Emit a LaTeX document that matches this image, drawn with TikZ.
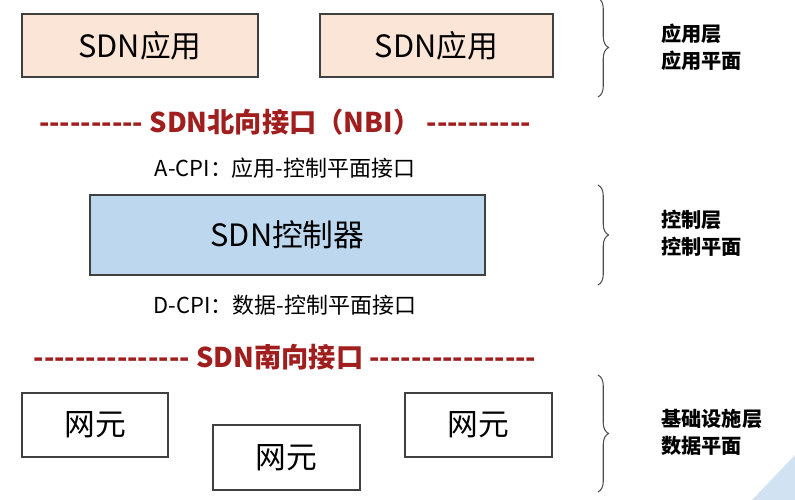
\documentclass[tikz,border=0pt]{standalone}
\usepackage{fontspec}
\setmainfont{Noto Sans CJK SC}
\usetikzlibrary{decorations.pathreplacing}
\definecolor{appfill}{HTML}{FBE5D6}
\definecolor{ctrlfill}{HTML}{BDD7EE}
\definecolor{ifred}{HTML}{A01E1E}
\newcommand{\dashrun}[1]{\foreach \i in {1,...,#1}{-{}}}
\tikzset{
  layerbox/.style={draw=black!75, line width=0.8pt, minimum width=#1, inner sep=0pt},
  boxtext/.style={font=\fontsize{17.5}{20}\selectfont},
  iftext/.style={text=ifred, font=\bfseries\fontsize{15.5}{18}\selectfont},
  cpitext/.style={font=\fontsize{12.5}{15}\selectfont},
  layertext/.style={font=\bfseries\fontsize{11.5}{15.5}\selectfont, align=left, anchor=west},
  bracket/.style={decorate, decoration={brace, amplitude=6pt}, black!70, line width=0.6pt}
}
\begin{document}
\begin{tikzpicture}[x=0.02cm, y=-0.02cm]
   \useasboundingbox (0,0) rectangle (795,500);
   \fill[ctrlfill!70] (795,455) -- (795,500) -- (752,500) -- cycle;

   % application layer
   \node[layerbox=4.72cm, minimum height=1.26cm, fill=appfill, boxtext] (app1) at (140,45.5) {SDN应用};
   \node[layerbox=4.66cm, minimum height=1.26cm, fill=appfill, boxtext] (app2) at (436.5,45.5) {SDN应用};

   \node[iftext] (nbi) at (285,122) {\dashrun{10} SDN北向接口（NBI） \dashrun{10}};
   \node[cpitext] (acpi) at (285,168) {A-CPI：应用-控制平面接口};

   % control layer
   \node[layerbox=7.9cm, minimum height=1.6cm, fill=ctrlfill, boxtext] (ctrl) at (287.5,235) {SDN控制器};

   \node[cpitext] (dcpi) at (285,305) {D-CPI：数据-控制平面接口};
   \node[iftext] (sbi) at (285,357) {\dashrun{15} SDN南向接口 \dashrun{16}};

   % data layer
   \node[layerbox=2.92cm, minimum height=1.28cm, fill=white, boxtext] (ne1) at (95,425) {网元};
   \node[layerbox=2.94cm, minimum height=1.3cm, fill=white, boxtext] (ne2) at (286.5,457.5) {网元};
   \node[layerbox=2.94cm, minimum height=1.28cm, fill=white, boxtext] (ne3) at (478.5,425) {网元};

   % layer braces
   \coordinate (b1t) at (598,-2);  \coordinate (b1b) at (598,97);
   \coordinate (b2t) at (598,185); \coordinate (b2b) at (598,285);
   \coordinate (b3t) at (598,375); \coordinate (b3b) at (598,492);
   \draw[bracket] (b1t) -- (b1b);
   \draw[bracket] (b2t) -- (b2b);
   \draw[bracket] (b3t) -- (b3b);
   \node[layertext] (l1) at (655,47) {应用层\\应用平面};
   \node[layertext] (l2) at (655,233) {控制层\\控制平面};
   \node[layertext] (l3) at (655,432) {基础设施层\\数据平面};
\end{tikzpicture}
\end{document}
